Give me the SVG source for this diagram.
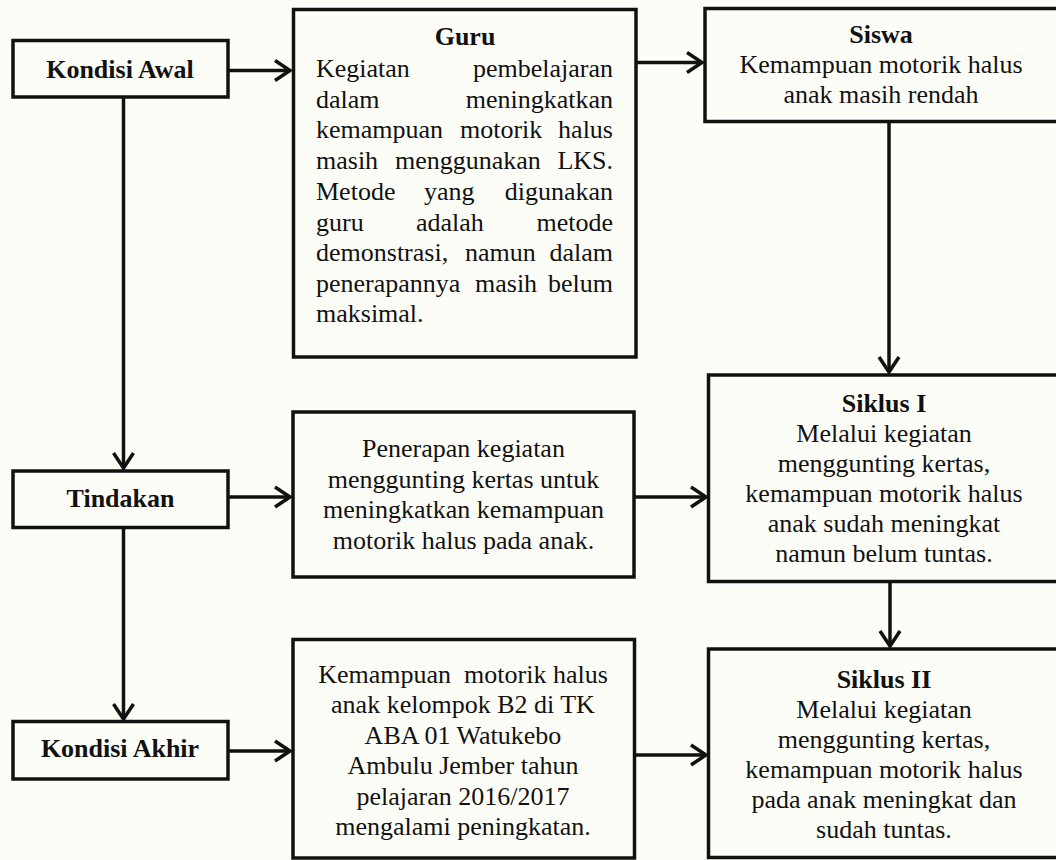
<svg xmlns="http://www.w3.org/2000/svg" width="1056" height="860" viewBox="0 0 1056 860">
<style>
.bg{fill:#fdfdf8}
.box{fill:#fdfdf8;stroke:#111;stroke-width:3.5}
.t{font-family:"Liberation Serif","Times New Roman",serif;font-size:26px;fill:#111;text-anchor:middle}
.b{font-weight:bold}
.j{text-anchor:start}
.e{text-anchor:end}
.c{fill:none;stroke:#111;stroke-width:3.5}
</style>
<defs>
<marker id="arr" markerUnits="userSpaceOnUse" markerWidth="30" markerHeight="30" viewBox="-20 -15 30 30" refX="0" refY="0" orient="auto" overflow="visible">
<path d="M-15,-10 L0,0 L-15,10" fill="none" stroke="#111" stroke-width="3.5" stroke-linejoin="miter"/>
</marker>
</defs>
<rect class="bg" x="0" y="0" width="1056" height="860"/>

<g id="connectors">
<line class="c" x1="229" y1="70.5" x2="290" y2="70.5" marker-end="url(#arr)"/>
<line class="c" x1="636" y1="62.5" x2="702" y2="62.5" marker-end="url(#arr)"/>
<line class="c" x1="889" y1="121" x2="889" y2="372" marker-end="url(#arr)"/>
<line class="c" x1="123.5" y1="97" x2="123.5" y2="468" marker-end="url(#arr)"/>
<line class="c" x1="229" y1="497" x2="290" y2="497" marker-end="url(#arr)"/>
<line class="c" x1="634" y1="497" x2="706" y2="497" marker-end="url(#arr)"/>
<line class="c" x1="890" y1="581" x2="890" y2="646" marker-end="url(#arr)"/>
<line class="c" x1="123.5" y1="528" x2="123.5" y2="719" marker-end="url(#arr)"/>
<line class="c" x1="229" y1="751" x2="290" y2="751" marker-end="url(#arr)"/>
<line class="c" x1="634" y1="755" x2="706" y2="755" marker-end="url(#arr)"/>
</g>

<g id="kondisi-awal">
<rect class="box" x="13" y="40.5" width="215" height="56.5"/>
<text class="t b" x="120" y="78">Kondisi Awal</text>
</g>

<g id="guru">
<rect class="box" x="293.5" y="9.5" width="342.5" height="347.5"/>
<text class="t b" x="465" y="45">Guru</text>
<text class="t j" y="77"><tspan x="316">Kegiatan</tspan><tspan class="e" x="613">pembelajaran</tspan></text>
<text class="t j" y="108"><tspan x="316">dalam</tspan><tspan class="e" x="613">meningkatkan</tspan></text>
<text class="t j" y="138"><tspan x="316">kemampuan</tspan><tspan x="460">motorik</tspan><tspan class="e" x="613">halus</tspan></text>
<text class="t j" y="169"><tspan x="316">masih</tspan><tspan x="395">menggunakan</tspan><tspan class="e" x="613">LKS.</tspan></text>
<text class="t j" y="200"><tspan x="316">Metode</tspan><tspan x="424">yang</tspan><tspan class="e" x="613">digunakan</tspan></text>
<text class="t j" y="231"><tspan x="316">guru</tspan><tspan x="416">adalah</tspan><tspan class="e" x="613">metode</tspan></text>
<text class="t j" y="261"><tspan x="316">demonstrasi,</tspan><tspan x="465">namun</tspan><tspan class="e" x="613">dalam</tspan></text>
<text class="t j" y="292"><tspan x="316">penerapannya</tspan><tspan x="475">masih</tspan><tspan class="e" x="613">belum</tspan></text>
<text class="t j" x="316" y="322">maksimal.</text>
</g>

<g id="siswa">
<rect class="box" x="705" y="8.5" width="360" height="113"/>
<text class="t b" x="881" y="43">Siswa</text>
<text class="t" x="881" y="73">Kemampuan motorik halus</text>
<text class="t" x="881" y="103">anak masih rendah</text>
</g>

<g id="tindakan">
<rect class="box" x="13" y="471" width="215" height="56.5"/>
<text class="t b" x="120.5" y="507">Tindakan</text>
</g>

<g id="penerapan">
<rect class="box" x="293" y="412" width="341" height="165"/>
<text class="t" x="463.5" y="457">Penerapan kegiatan</text>
<text class="t" x="463.5" y="488">menggunting kertas untuk</text>
<text class="t" x="463.5" y="518">meningkatkan kemampuan</text>
<text class="t" x="463.5" y="549">motorik halus pada anak.</text>
</g>

<g id="siklus-1">
<rect class="box" x="708.5" y="375" width="360" height="206.5"/>
<text class="t b" x="884" y="412">Siklus I</text>
<text class="t" x="884" y="442">Melalui kegiatan</text>
<text class="t" x="884" y="472">menggunting kertas,</text>
<text class="t" x="884" y="502">kemampuan motorik halus</text>
<text class="t" x="884" y="532">anak sudah meningkat</text>
<text class="t" x="884" y="562">namun belum tuntas.</text>
</g>

<g id="kondisi-akhir">
<rect class="box" x="13" y="721.5" width="215" height="57.5"/>
<text class="t b" x="120" y="757">Kondisi Akhir</text>
</g>

<g id="hasil">
<rect class="box" x="293" y="639.5" width="341.5" height="218.5"/>
<text class="t" x="463" y="683" style="white-space:pre">Kemampuan  motorik halus</text>
<text class="t" x="463" y="713.4">anak kelompok B2 di TK</text>
<text class="t" x="463" y="743.8">ABA 01 Watukebo</text>
<text class="t" x="463" y="774.2">Ambulu Jember tahun</text>
<text class="t" x="463" y="804.6">pelajaran 2016/2017</text>
<text class="t" x="463" y="835">mengalami peningkatan.</text>
</g>

<g id="siklus-2">
<rect class="box" x="708.5" y="649" width="360" height="208.5"/>
<text class="t b" x="884" y="688">Siklus II</text>
<text class="t" x="884" y="718">Melalui kegiatan</text>
<text class="t" x="884" y="748">menggunting kertas,</text>
<text class="t" x="884" y="778">kemampuan motorik halus</text>
<text class="t" x="884" y="808">pada anak meningkat dan</text>
<text class="t" x="884" y="838">sudah tuntas.</text>
</g>
</svg>
